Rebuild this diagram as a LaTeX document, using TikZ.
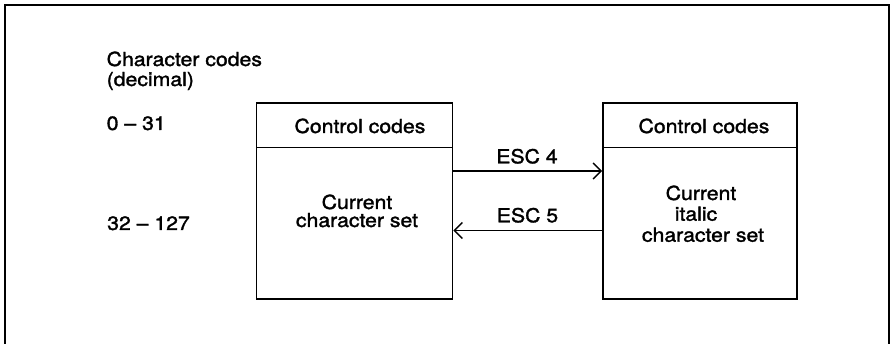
\documentclass[tikz,border=0pt]{standalone}
\usepackage{fontspec}
\setmainfont[FakeStretch=1.1,FakeBold=1.6]{TeX Gyre Heros}
\usetikzlibrary{arrows.meta}

\tikzset{
  frame/.style={line width=2.4pt},
  cell/.style={draw, line width=1.7pt, inner sep=0pt, minimum width=196pt},
  lbl/.style={inner sep=0pt, font=\fontsize{19.3}{22}\selectfont},
  link/.style={line width=1.7pt, -{Straight Barb[length=8pt,width=16pt,line width=1.5pt]}},
}

\begin{document}
\begin{tikzpicture}[x=1pt,y=-1pt]
  \useasboundingbox (0,0) rectangle (892,344);

  % open outer frame running off the bottom edge
  \draw[frame] (5,350) -- (5,5) -- (889,5) -- (889,350);

  % left column labels
  \node[lbl, anchor=base west] (hdr1) at (106.5,66) {Character codes};
  \node[lbl, anchor=base west] (hdr2) at (106.5,86) {(decimal)};
  \node[lbl, anchor=base west] (r1) at (106.5,130) {0 – 31};
  \node[lbl, anchor=base west] (r2) at (107,230) {32 – 127};

  % left block: control codes over current character set
  \node[cell, minimum height=44.5pt] (cc1) at (354.5,125.25) {};
  \node[cell, minimum height=151.5pt] (cs1) at (354.5,223.25) {};
  % right block: control codes over italic character set
  \node[cell, minimum width=194pt, minimum height=44.5pt] (cc2) at (700,125.25) {};
  \node[cell, minimum width=194pt, minimum height=151.5pt] (cs2) at (700,223.25) {};

  \node[lbl, anchor=base] (t1) at (360,133) {Control codes};
  \node[lbl, anchor=base] (t2) at (704,133) {Control codes};
  \node[lbl, anchor=base] (s1a) at (357,209) {Current};
  \node[lbl, anchor=base] (s1b) at (357,227) {character set};
  \node[lbl, anchor=base] (s2a) at (701,200) {Current};
  \node[lbl, anchor=base] (s2b) at (696,220.7) {italic};
  \node[lbl, anchor=base] (s2c) at (703,241.7) {character set};

  % switching escape sequences
  \coordinate (y4) at (0,171);
  \coordinate (y5) at (0,230.5);
  \draw[link] (cs1.east |- y4) -- (cs2.west |- y4);
  \draw[link] (cs2.west |- y5) -- (cs1.east |- y5);
  \node[lbl, anchor=base] (e4) at (527,163.3) {ESC 4};
  \node[lbl, anchor=base] (e5) at (527.5,222.3) {ESC 5};
\end{tikzpicture}
\end{document}
